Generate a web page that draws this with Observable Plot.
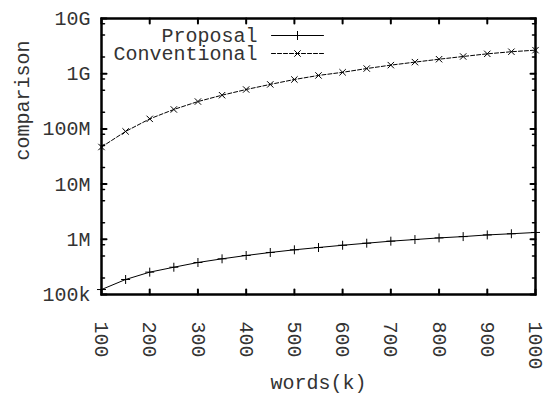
<!DOCTYPE html>
<html>
<head>
<meta charset="utf-8">
<script src="https://cdn.jsdelivr.net/npm/d3@7"></script>
<script src="https://cdn.jsdelivr.net/npm/@observablehq/plot@0.6"></script>
<style>
  html, body { margin: 0; padding: 0; background: #fff; }
  svg { overflow: visible; }
</style>
</head>
<body>
<div id="chart"></div>
<script>
// ---- data ----
const words = [100, 150, 200, 250, 300, 350, 400, 450, 500, 550, 600, 650, 700, 750, 800, 850, 900, 950, 1000];
const proposal = [1.23e5, 1.87e5, 2.54e5, 3.12e5, 3.8e5, 4.43e5, 5.09e5, 5.77e5, 6.45e5, 7.1e5, 7.8e5, 8.5e5, 9.25e5, 9.9e5, 1.06e6, 1.12e6, 1.2e6, 1.26e6, 1.33e6];
const conventional = [4.7e7, 9.0e7, 1.52e8, 2.25e8, 3.13e8, 4.08e8, 5.17e8, 6.4e8, 7.85e8, 9.3e8, 1.06e9, 1.24e9, 1.43e9, 1.62e9, 1.83e9, 2.05e9, 2.29e9, 2.5e9, 2.67e9];
const seriesNames = ["Proposal", "Conventional"];
const xTicks = [100, 200, 300, 400, 500, 600, 700, 800, 900, 1000];
const yTicks = [1e5, 1e6, 1e7, 1e8, 1e9, 1e10];
const yTickLabels = ["100k", "1M", "10M", "100M", "1G", "10G"];
const yMinorMultipliers = [2, 5, 8];
const xLabel = "words(k)";
const yLabel = "comparison";

// ---- derived tables ----
const rows = [];
words.forEach((w, i) => {
  rows.push({series: seriesNames[0], x: w, y: proposal[i]});
  rows.push({series: seriesNames[1], x: w, y: conventional[i]});
});
const propRows = rows.filter(d => d.series === seriesNames[0]);
const convRows = rows.filter(d => d.series === seriesNames[1]);
const yLabelMap = new Map(yTicks.map((v, i) => [v, yTickLabels[i]]));
const yMinor = [];
yTicks.slice(0, -1).forEach(v => yMinorMultipliers.forEach(m => yMinor.push(v * m)));

const tickShape = {draw(ctx, l) { ctx.moveTo(0, 0); ctx.lineTo(0, -l); }};
const lineShape = {draw(ctx, l) { ctx.moveTo(0, 0); ctx.lineTo(0, -l); }};

const majorLen = 5, minorLen = 3;
const tickStyle = {shape: tickShape, anchor: "start", stroke: "black"};
const textFill = "#333";

const chart = Plot.plot({
  width: 545,
  height: 394,
  marginLeft: 101,
  marginRight: 10,
  marginTop: 18,
  marginBottom: 100,
  style: {fontFamily: "Liberation Mono, monospace", fontSize: "20px", color: textFill, background: "white"},
  x: {domain: [100, 1000]},
  y: {type: "log", domain: [1e5, 1e10]},
  marks: [
    // tick labels
    Plot.axisY(yTicks, {tickSize: 0, tickPadding: 11, tickFormat: d => yLabelMap.get(d), label: null, fill: textFill}),
    Plot.axisX(xTicks, {tickSize: 0, tickPadding: 27, tickRotate: 90, tickFormat: d => String(d), label: null, fill: textFill}),
    // inward ticks (major)
    Plot.vector(xTicks, {x: d => d, frameAnchor: "bottom", rotate: 0, length: majorLen, strokeWidth: 2, ...tickStyle}),
    Plot.vector(xTicks, {x: d => d, frameAnchor: "top", rotate: 180, length: majorLen, strokeWidth: 2, ...tickStyle}),
    Plot.vector(yTicks, {y: d => d, frameAnchor: "left", rotate: 90, length: majorLen, strokeWidth: 2, ...tickStyle}),
    Plot.vector(yTicks, {y: d => d, frameAnchor: "right", rotate: -90, length: majorLen, strokeWidth: 2, ...tickStyle}),
    // inward ticks (minor)
    Plot.vector(yMinor, {y: d => d, frameAnchor: "left", rotate: 90, length: minorLen, strokeWidth: 1.5, ...tickStyle}),
    Plot.vector(yMinor, {y: d => d, frameAnchor: "right", rotate: -90, length: minorLen, strokeWidth: 1.5, ...tickStyle}),
    // data
    Plot.line(propRows, {x: "x", y: "y", stroke: "black", strokeWidth: 1}),
    Plot.dot(propRows, {x: "x", y: "y", symbol: "plus", r: 3, stroke: "black", strokeWidth: 1}),
    Plot.line(convRows, {x: "x", y: "y", stroke: "black", strokeWidth: 1, strokeDasharray: "4,2"}),
    Plot.dot(convRows, {x: "x", y: "y", symbol: "times", r: 3, stroke: "black", strokeWidth: 1}),
    // legend
    Plot.text([seriesNames[0]], {frameAnchor: "top-right", dx: -278, dy: 17, textAnchor: "end", lineAnchor: "middle", fill: textFill}),
    Plot.text([seriesNames[1]], {frameAnchor: "top-right", dx: -278, dy: 35, textAnchor: "end", lineAnchor: "middle", fill: textFill}),
    Plot.vector([seriesNames[0]], {frameAnchor: "top-right", dx: -238, dy: 17, rotate: 90, length: 52, anchor: "middle", shape: lineShape, stroke: "black", strokeWidth: 1}),
    Plot.vector([seriesNames[1]], {frameAnchor: "top-right", dx: -238, dy: 35, rotate: 90, length: 52, anchor: "middle", shape: lineShape, stroke: "black", strokeWidth: 1, strokeDasharray: "4,2"}),
    Plot.dot([seriesNames[0]], {frameAnchor: "top-right", dx: -238, dy: 17, symbol: "plus", r: 3, stroke: "black", strokeWidth: 1}),
    Plot.dot([seriesNames[1]], {frameAnchor: "top-right", dx: -238, dy: 35, symbol: "times", r: 3, stroke: "black", strokeWidth: 1}),
    // axis titles
    Plot.text([xLabel], {frameAnchor: "bottom", dy: 88, lineAnchor: "middle", fill: textFill}),
    Plot.text([yLabel], {frameAnchor: "left", dx: -79, dy: 4, rotate: -90, lineAnchor: "middle", fill: textFill}),
    // border
    Plot.frame({stroke: "black", strokeWidth: 2.5})
  ]
});
document.getElementById("chart").appendChild(chart);
</script>
</body>
</html>
